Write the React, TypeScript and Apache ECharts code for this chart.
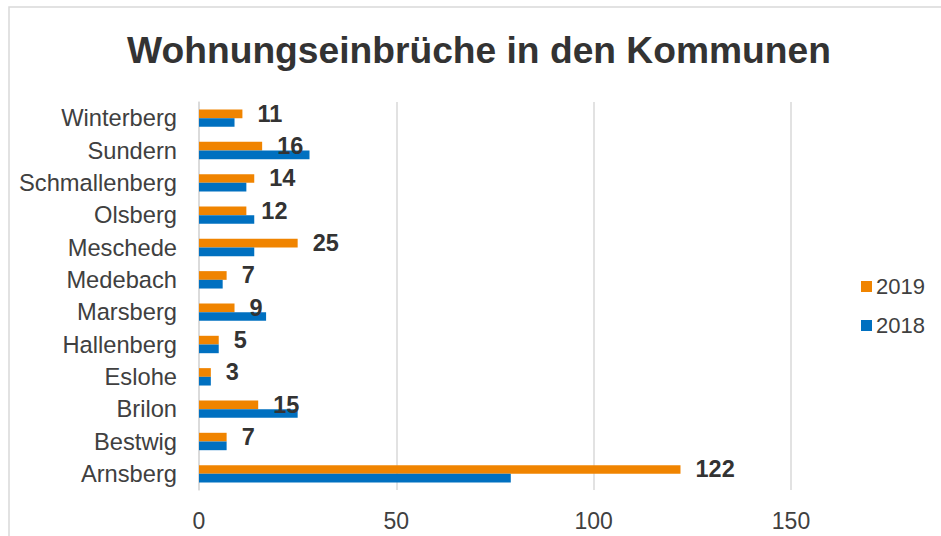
import React, { useEffect, useRef } from "react";
import * as echarts from "echarts";

const categories = [
  "Arnsberg",
  "Bestwig",
  "Brilon",
  "Eslohe",
  "Hallenberg",
  "Marsberg",
  "Medebach",
  "Meschede",
  "Olsberg",
  "Schmallenberg",
  "Sundern",
  "Winterberg",
];
const values2019 = [122, 7, 15, 3, 5, 9, 7, 25, 12, 14, 16, 11];
const values2018 = [79, 7, 25, 3, 5, 17, 6, 14, 14, 12, 28, 9];
const xTicks = [0, 50, 100, 150];
const titleText = "Wohnungseinbrüche in den Kommunen";

const FONT = "'Liberation Sans', Arial, sans-serif";

export default function App() {
  const ref = useRef<HTMLDivElement>(null);
  useEffect(() => {
    if (!ref.current) return;
    const chart = echarts.init(ref.current, null, { renderer: "svg" });
    chart.setOption({
      animation: false,
      backgroundColor: "#ffffff",
      textStyle: { fontFamily: FONT },
      title: {
        text: titleText,
        left: 479,
        top: 31,
        textAlign: "center",
        padding: 0,
        textStyle: {
          fontFamily: FONT,
          fontSize: 37.2,
          fontWeight: "bold",
          color: "#333333",
        },
      },
      graphic: [
        {
          type: "rect",
          shape: { x: 9, y: 7, width: 1200, height: 1000 },
          style: { fill: "none", stroke: "#d9d9d9", lineWidth: 1.5 },
          silent: true,
          z: -1,
        },
      ],
      legend: {
        orient: "vertical",
        left: 861,
        top: 275.5,
        padding: 0,
        itemWidth: 11,
        itemHeight: 11,
        itemGap: 17,
        icon: "rect",
        data: ["2019", "2018"],
        textStyle: {
          fontFamily: FONT,
          fontSize: 22,
          color: "#404040",
          padding: [0, 0, 0, -1],
        },
      },
      grid: {
        left: 199,
        right: 150,
        top: 102,
        bottom: 46,
        containLabel: false,
      },
      xAxis: {
        type: "value",
        min: xTicks[0],
        max: xTicks[xTicks.length - 1],
        interval: 50,
        axisLine: { show: false },
        axisTick: { show: false },
        axisLabel: {
          margin: 19,
          fontFamily: FONT,
          fontSize: 23,
          color: "#404040",
        },
        splitLine: { show: true, lineStyle: { color: "#d9d9d9", width: 1.5 } },
      },
      yAxis: {
        type: "category",
        data: categories,
        axisLine: { show: true, lineStyle: { color: "#d9d9d9", width: 1.5 } },
        axisTick: { show: false },
        axisLabel: {
          margin: 22,
          fontFamily: FONT,
          fontSize: 23.7,
          color: "#404040",
        },
        splitLine: { show: false },
      },
      series: [
        {
          name: "2019",
          type: "bar",
          data: values2019,
          barWidth: 8.7,
          barGap: "0%",
          itemStyle: { color: "#F08400" },
          label: {
            show: true,
            position: "right",
            distance: 15,
            fontFamily: FONT,
            fontSize: 23.5,
            fontWeight: "bold",
            color: "#333333",
          },
        },
        {
          name: "2018",
          type: "bar",
          data: values2018,
          barWidth: 8.7,
          barGap: "0%",
          itemStyle: { color: "#0070C0" },
        },
      ],
    });
    return () => chart.dispose();
  }, []);
  return (
    <div
      ref={ref}
      style={{ position: "fixed", left: 0, top: 0, width: 941, height: 536 }}
    />
  );
}
